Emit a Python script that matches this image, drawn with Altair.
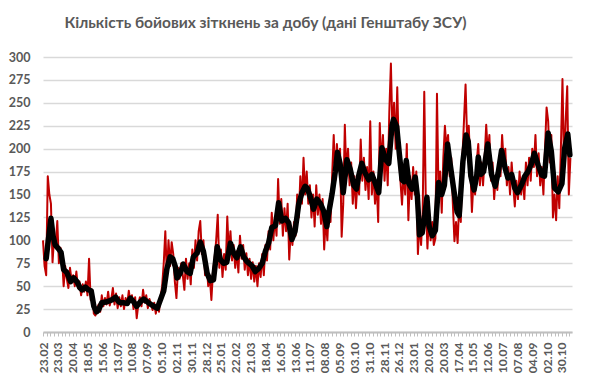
import calendar
from datetime import date, timedelta

import altair as alt
import pandas as pd

TITLE = "Кількість бойових зіткнень за добу (дані Генштабу ЗСУ)"
START = date(2023, 2, 23)
RED_STEP = 3          # days between daily-series samples
LABEL_EVERY = 28      # days between x labels
TICK_EVERY = 7        # days between x ticks
N_DAYS = 999          # axis span in days
Y_TICKS = list(range(0, 301, 25))

# daily clashes (sampled every RED_STEP days from START)
red_values = [
    100, 72, 62, 170, 150, 140, 76, 104, 95, 121,
    75, 92, 80, 50, 72, 58, 48, 70, 56, 62,
    50, 66, 48, 55, 40, 52, 44, 55, 40, 80,
    35, 45, 20, 18, 25, 30, 22, 40, 28, 37,
    30, 44, 29, 36, 48, 30, 42, 26, 38, 28,
    40, 25, 37, 30, 45, 33, 40, 25, 38, 15,
    30, 38, 28, 46, 32, 40, 26, 36, 30, 24,
    32, 20, 30, 22, 38, 50, 75, 110, 60, 100,
    72, 98, 85, 55, 37, 70, 58, 75, 62, 46,
    80, 58, 75, 52, 90, 70, 100, 78, 110, 121,
    85, 100, 62, 75, 50, 60, 35, 66, 80, 100,
    128, 70, 90, 60, 85, 68, 126, 85, 110, 78,
    95, 70, 88, 65, 105, 80, 95, 68, 86, 62,
    80, 58, 76, 55, 72, 50, 75, 60, 85, 62,
    95, 78, 110, 90, 130, 100, 125, 105, 167, 118,
    145, 105, 135, 110, 140, 79, 112, 95, 120, 105,
    150, 125, 170, 140, 190, 150, 175, 140, 160, 125,
    150, 115, 160, 128, 150, 118, 145, 90, 125, 100,
    140, 120, 170, 215, 165, 205, 180, 200, 104, 140,
    226, 170, 200, 160, 185, 140, 170, 135, 165, 150,
    210, 165, 190, 155, 180, 145, 230, 150, 175, 140,
    165, 120, 228, 180, 215, 165, 200, 160, 240, 293,
    215, 250, 200, 267, 195, 165, 139, 175, 150, 205,
    122, 170, 145, 180, 150, 175, 85, 120, 95, 130,
    262, 140, 91, 130, 100, 120, 95, 102, 260, 150,
    175, 130, 190, 225, 200, 215, 170, 190, 140, 99,
    120, 97, 140, 120, 190, 230, 270, 210, 225, 180,
    131, 165, 150, 185, 205, 160, 185, 160, 190, 226,
    195, 215, 165, 185, 145, 170, 155, 185, 170, 215,
    185, 200, 160, 180, 150, 185, 160, 137, 165, 145,
    175, 150, 170, 145, 185, 160, 190, 165, 200, 180,
    215, 170, 195, 160, 180, 150, 200, 245, 230, 185,
    215, 125, 150, 122, 170, 135, 200, 276, 180, 230,
    268, 150, 190,
]

# 7-day moving average (day offset from START, value)
ma_days = [
    6, 10, 15, 19, 23, 29, 34, 39, 45, 52,
    58, 64, 70, 74, 80, 86, 91, 96, 101, 105,
    111, 121, 130, 137, 143, 146, 152, 159, 165, 171,
    177, 184, 190, 199, 209, 216, 221, 228, 234, 240,
    245, 250, 253, 259, 265, 272, 278, 284, 291, 297,
    303, 310, 316, 322, 329, 335, 341, 347, 354, 360,
    366, 373, 379, 385, 395, 401, 407, 414, 420, 426,
    432, 439, 445, 451, 458, 464, 470, 476, 483, 489,
    495, 499, 505, 511, 517, 524, 530, 536, 539, 546,
    552, 556, 561, 567, 574, 580, 587, 592, 596, 602,
    608, 615, 621, 627, 634, 640, 647, 653, 659, 662,
    668, 673, 678, 682, 686, 691, 697, 703, 707, 711,
    716, 721, 725, 729, 735, 741, 747, 753, 758, 764,
    769, 775, 782, 786, 793, 799, 803, 808, 814, 819,
    822, 827, 832, 840, 847, 854, 860, 866, 873, 878,
    885, 891, 896, 904, 910, 916, 922, 928, 935, 942,
    947, 954, 960, 966, 973, 980, 985, 991, 995,
]
ma_values = [
    80, 100, 124, 105, 95, 91, 87, 68, 65, 55,
    59, 55, 48, 46, 49, 46, 45, 28, 22, 24,
    32, 33, 35, 38, 33, 32, 32, 31, 37, 33,
    28, 33, 36, 32, 28, 26, 34, 45, 69, 82,
    80, 71, 59, 64, 74, 66, 64, 82, 86, 98,
    88, 64, 56, 57, 93, 79, 75, 76, 97, 86,
    81, 93, 82, 77, 72, 66, 69, 75, 88, 97,
    114, 116, 141, 121, 124, 119, 101, 110, 140, 152,
    159, 157, 147, 134, 145, 140, 132, 115, 128, 151,
    175, 196, 184, 152, 188, 178, 160, 156, 170, 184,
    174, 166, 172, 163, 152, 201, 188, 184, 225, 232,
    224, 194, 166, 164, 187, 162, 156, 169, 148, 106,
    108, 128, 147, 116, 105, 111, 163, 150, 160, 205,
    183, 158, 131, 127, 186, 215, 208, 170, 155, 170,
    191, 172, 175, 205, 172, 159, 175, 198, 178, 168,
    172, 157, 152, 161, 170, 175, 183, 195, 182, 171,
    170, 217, 197, 157, 153, 162, 200, 216, 193,
]


def iso(d):
    return (START + timedelta(days=d)).isoformat()


def ms(d):
    return calendar.timegm((START + timedelta(days=d)).timetuple()) * 1000


red_df = pd.DataFrame({
    "date": [iso(i * RED_STEP) for i in range(len(red_values))],
    "value": red_values,
})
ma_df = pd.DataFrame({"date": [iso(d) for d in ma_days], "value": ma_values})

FONT = "Lato, 'Open Sans', sans-serif"
TEXT = "#595959"
start_ms = ms(0)

x_enc = alt.X(
    "date:T",
    scale=alt.Scale(type="utc", domain=[ms(0), ms(N_DAYS)]),
    axis=alt.Axis(
        values=[ms(d) for d in range(0, N_DAYS + 1, TICK_EVERY)],
        labelExpr=(
            f"(round((datum.value - {start_ms}) / 86400000) % {LABEL_EVERY} == 0)"
            " ? utcFormat(datum.value, '%d.%m') : ''"
        ),
        labelAngle=270,
        labelOverlap=False,
        labelFlush=False,
        labelBound=False,
        labelFont=FONT,
        labelFontSize=12,
        labelFontWeight="bold",
        labelColor=TEXT,
        labelPadding=6,
        grid=False,
        domainColor="#bfbfbf",
        domainWidth=2,
        tickColor="#bfbfbf",
        tickSize=4,
        tickWidth=1,
        title=None,
    ),
)
y_enc = alt.Y(
    "value:Q",
    scale=alt.Scale(domain=[0, 300], nice=False),
    axis=alt.Axis(
        values=Y_TICKS,
        grid=True,
        gridColor="#d9d9d9",
        gridWidth=1.3,
        domain=False,
        ticks=False,
        tickSize=0,
        labelPadding=13,
        labelFont=FONT,
        labelFontSize=12.5,
        labelFontWeight="bold",
        labelColor=TEXT,
        title=None,
    ),
)

red = alt.Chart(red_df).mark_line(
    color="#C00000", strokeWidth=2, strokeJoin="round"
).encode(x=x_enc, y=y_enc)

black = alt.Chart(ma_df).mark_line(
    color="#000000", strokeWidth=5.5, strokeJoin="round", strokeCap="round"
).encode(x=x_enc, y=y_enc)

chart = (
    alt.layer(red, black)
    .properties(
        width=529,
        height=275,
        autosize="none",
        padding={"left": 35, "top": 49, "right": 10, "bottom": 42},
        title=alt.TitleParams(
            text=TITLE,
            font=FONT,
            fontSize=15.5,
            fontWeight="bold",
            color=TEXT,
            anchor="middle",
            dx=-42,
            offset=20,
        ),
    )
    .configure_view(stroke=None)
)

chart.save("out.html", embed_options={"renderer": "svg", "actions": False})
